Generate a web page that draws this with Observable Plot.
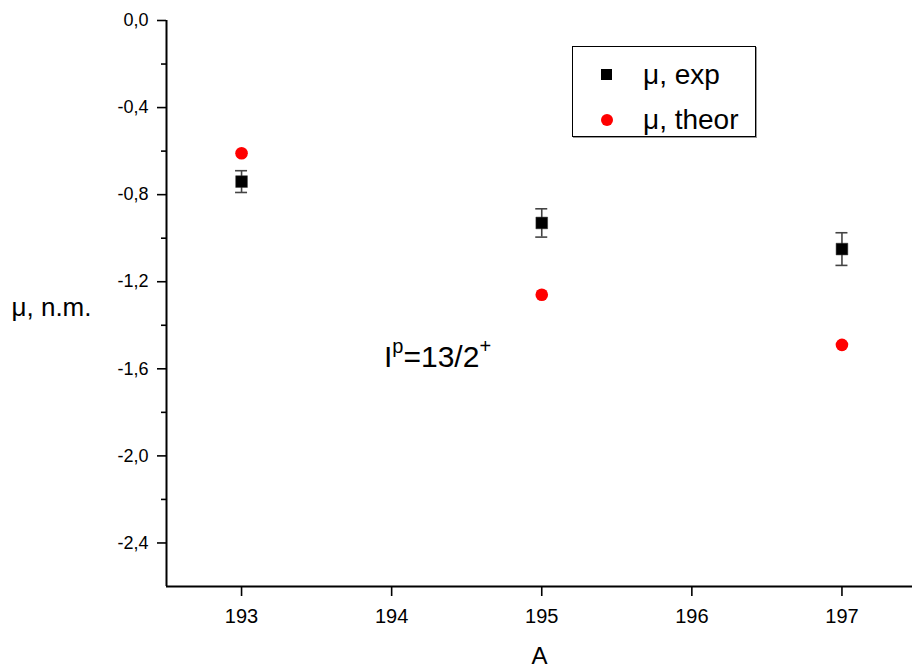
<!DOCTYPE html>
<html>
<head>
<meta charset="utf-8">
<script src="https://cdn.jsdelivr.net/npm/d3@7"></script>
<script src="https://cdn.jsdelivr.net/npm/@observablehq/plot@0.6"></script>
<style>
  html, body { margin: 0; padding: 0; background: #fff; }
  #wrap { position: relative; width: 912px; height: 670px; font-family: "Liberation Sans", Arial, sans-serif; }
  #legend { position: absolute; left: 572px; top: 46px; width: 182px; height: 89px; border: 1px solid #000; box-shadow: 1px 1px 0 #999; background: #fff; }
  .row { position: absolute; left: 0; height: 30px; font-size: 28px; line-height: 30px; color: #000; }
  .sym { position: absolute; left: 27px; }
  .lbl { position: absolute; left: 70px; white-space: nowrap; }
  #note { position: absolute; left: 384px; top: 340px; font-size: 30px; line-height: 34px; white-space: nowrap; color: #000; }
  #note sup { font-size: 20px; vertical-align: 14px; line-height: 0; }
</style>
</head>
<body>
<div id="wrap"></div>
<script>
// ---- data ----
const massNumbers = [193, 195, 197];
const muExp = [-0.74, -0.93, -1.05];
const muExpErr = [0.05, 0.065, 0.075];
const muTheor = [-0.61, -1.26, -1.49];
const yMajorTicks = [0, -0.4, -0.8, -1.2, -1.6, -2.0, -2.4];
const yMinorTicks = [-0.2, -0.6, -1.0, -1.4, -1.8, -2.2];
const xTicks = [193, 194, 195, 196, 197];
const seriesNames = ["\u03bc, exp", "\u03bc, theor"];
const yLabel = "\u03bc, n.m.";
const xLabel = "A";

const expData = massNumbers.map((a, i) => ({A: a, mu: muExp[i], lo: muExp[i] - muExpErr[i], hi: muExp[i] + muExpErr[i]}));
const theorData = massNumbers.map((a, i) => ({A: a, mu: muTheor[i]}));

const fmt = d => d.toFixed(1).replace(".", ",");
const font = '"Liberation Sans", Arial, sans-serif';

const chart = Plot.plot({
  width: 912,
  height: 670,
  marginLeft: 166,
  marginTop: 20,
  marginBottom: 84,
  marginRight: 0,
  style: {fontFamily: font, background: "#fff", color: "#000"},
  x: {domain: [192.5, 197.47]},
  y: {domain: [-2.6, 0]},
  marks: [
    Plot.axisY(yMajorTicks, {tickSize: 9, tickFormat: () => "", strokeWidth: 1.6, label: null}),
    Plot.axisY(yMinorTicks, {tickSize: 5, tickFormat: () => "", strokeWidth: 1.6, label: null}),
    Plot.axisX(xTicks, {tickSize: 10, tickFormat: () => "", strokeWidth: 1.6, label: null}),
    Plot.text(yMajorTicks, {y: d => d, text: fmt, frameAnchor: "left", dx: -18, textAnchor: "end", lineAnchor: "middle", fontSize: 18}),
    Plot.text(xTicks, {x: d => d, text: d => String(d), frameAnchor: "bottom", dy: 30, textAnchor: "middle", lineAnchor: "middle", fontSize: 20}),
    Plot.ruleX([192.5], {strokeWidth: 2}),
    Plot.ruleY([-2.6], {strokeWidth: 2}),
    Plot.text([yLabel], {frameAnchor: "left", dx: -115, dy: 4, fontSize: 26, textAnchor: "middle", lineAnchor: "middle"}),
    Plot.text([xLabel], {frameAnchor: "bottom", dy: 70, fontSize: 24, textAnchor: "middle", lineAnchor: "middle"}),
    Plot.ruleX(expData, {x: "A", y1: "lo", y2: "hi", stroke: "#444", strokeWidth: 1.6}),
    Plot.ruleY(expData, {y: "lo", x1: "A", x2: "A", insetLeft: -6, insetRight: -6, stroke: "#444", strokeWidth: 1.6}),
    Plot.ruleY(expData, {y: "hi", x1: "A", x2: "A", insetLeft: -6, insetRight: -6, stroke: "#444", strokeWidth: 1.6}),
    Plot.dot(expData, {x: "A", y: "mu", symbol: "square", r: 6.6, fill: "#000", stroke: "#333", strokeWidth: 0.5}),
    Plot.dot(theorData, {x: "A", y: "mu", symbol: "circle", r: 6.3, fill: "#ff0000"})
  ]
});

const wrap = document.getElementById("wrap");
wrap.appendChild(chart);

// legend
const legend = document.createElement("div");
legend.id = "legend";
const symbols = [
  '<svg width="14" height="14"><rect x="1" y="1" width="11" height="11" fill="#000"/></svg>',
  '<svg width="14" height="14"><circle cx="7" cy="7" r="6" fill="#ff0000"/></svg>'
];
seriesNames.forEach((name, i) => {
  const row = document.createElement("div");
  row.className = "row";
  row.style.top = (13 + i * 45) + "px";
  row.style.width = "100%";
  row.innerHTML = `<span class="sym" style="top:8px;line-height:0">${symbols[i]}</span><span class="lbl">${name}</span>`;
  legend.appendChild(row);
});
wrap.appendChild(legend);

// annotation
const note = document.createElement("div");
note.id = "note";
note.innerHTML = "I<sup>p</sup>=13/2<sup>+</sup>";
wrap.appendChild(note);
</script>
</body>
</html>
